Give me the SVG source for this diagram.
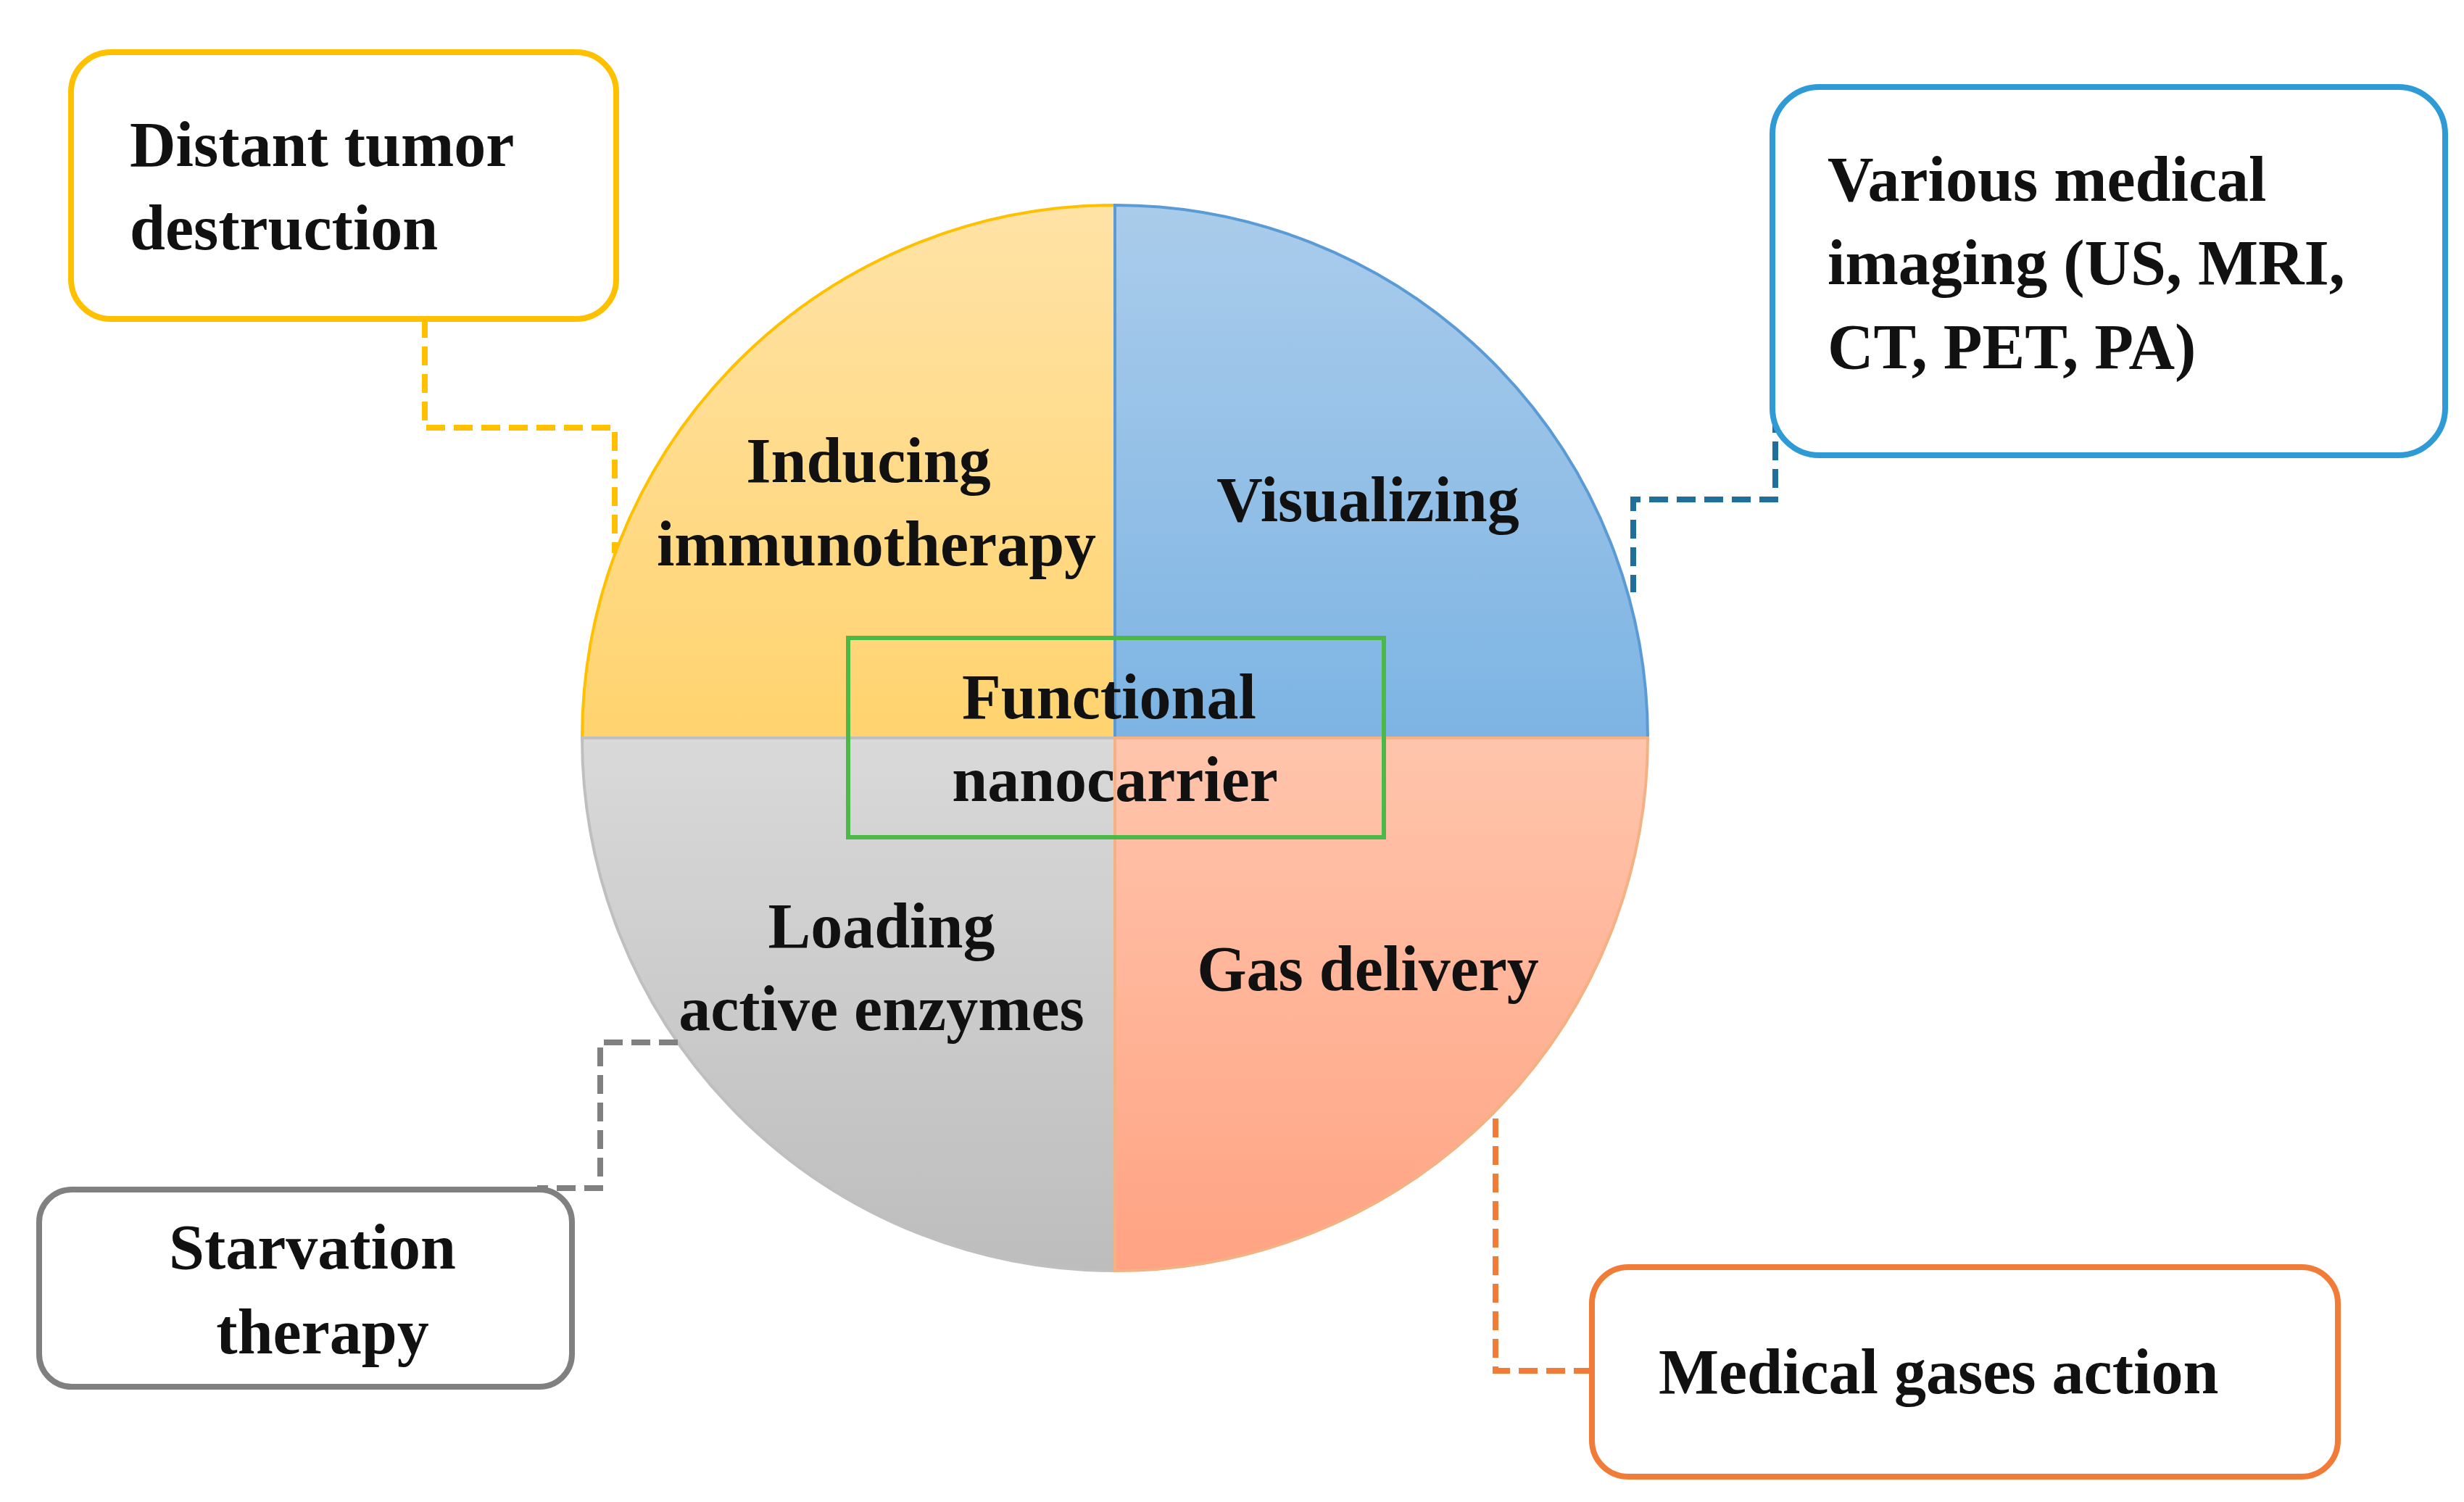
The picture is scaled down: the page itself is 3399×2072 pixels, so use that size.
<svg xmlns="http://www.w3.org/2000/svg" width="3399" height="2072" viewBox="0 0 3399 2072">
<style>
text{font-family:"Liberation Serif","Times New Roman",serif;font-weight:bold;font-size:88px;fill:#111}
.c{text-anchor:middle}
.box{fill:#fff;stroke-width:8}
.dash{fill:none;stroke-width:8;stroke-dasharray:26 12}
</style>
<defs>
<linearGradient id="gy" x1="0" y1="0" x2="0" y2="1"><stop offset="0" stop-color="#FFE3A6"/><stop offset="1" stop-color="#FFD36E"/></linearGradient>
<linearGradient id="gb" x1="0" y1="0" x2="0" y2="1"><stop offset="0" stop-color="#AACCEB"/><stop offset="1" stop-color="#7DB4E3"/></linearGradient>
<linearGradient id="gg" x1="0" y1="0" x2="0" y2="1"><stop offset="0" stop-color="#D9D9D9"/><stop offset="1" stop-color="#BDBDBD"/></linearGradient>
<linearGradient id="go" x1="0" y1="0" x2="0" y2="1"><stop offset="0" stop-color="#FFC5AC"/><stop offset="1" stop-color="#FFA383"/></linearGradient>
</defs>
<rect width="3399" height="2072" fill="#fff"/>
<g id="circle">
<path d="M1538 1018 L803 1018 A735 735 0 0 1 1538 283 Z" fill="url(#gy)" stroke="#FFC000" stroke-width="4"/>
<path d="M1538 1018 L1538 283 A735 735 0 0 1 2273 1018 Z" fill="url(#gb)" stroke="#5B9BD5" stroke-width="4"/>
<path d="M1538 1018 L803 1018 A735 735 0 0 0 1538 1753 Z" fill="url(#gg)" stroke="#BFBFBF" stroke-width="4"/>
<path d="M1538 1018 L1538 1753 A735 735 0 0 0 2273 1018 Z" fill="url(#go)" stroke="#F4B183" stroke-width="4"/>
<text class="c" x="1198" y="665">Inducing</text>
<text class="c" x="1209" y="780">immunotherapy</text>
<text class="c" x="1887" y="719">Visualizing</text>
<text class="c" x="1216" y="1307">Loading</text>
<text class="c" x="1216" y="1421">active enzymes</text>
<text class="c" x="1887" y="1366">Gas delivery</text>
</g>
<g id="center">
<rect x="1170" y="880" width="739" height="275" fill="none" stroke="#4CB847" stroke-width="6"/>
<text class="c" x="1530" y="991">Functional</text>
<text class="c" x="1538" y="1105">nanocarrier</text>
</g>
<g id="connectors">
<path class="dash" stroke="#FFC000" d="M586 440 V590 H848 V763"/>
<path class="dash" stroke="#1F6F9A" d="M2449 571 V689 H2253 V817"/>
<path class="dash" stroke="#808080" d="M935 1438 H828 V1639 H741"/>
<path class="dash" stroke="#F07C38" d="M2063 1543 V1891 H2196"/>
</g>
<g id="n1"><rect class="box" x="98" y="72" width="752" height="368" rx="55" stroke="#FFC000"/>
<text x="179" y="229">Distant tumor</text><text x="179" y="344">destruction</text></g>
<g id="n2"><rect class="box" x="2445" y="120" width="928" height="508" rx="65" stroke="#2E9AD6"/>
<text x="2521" y="277">Various medical</text><text x="2521" y="392">imaging (US, MRI,</text><text x="2521" y="508">CT, PET, PA)</text></g>
<g id="n3"><rect class="box" x="54" y="1641" width="735" height="272" rx="45" stroke="#808080"/>
<text class="c" x="431" y="1750">Starvation</text><text class="c" x="445" y="1867">therapy</text></g>
<g id="n4"><rect class="box" x="2196" y="1748" width="1029" height="289" rx="50" stroke="#F07C38"/>
<text x="2288" y="1922">Medical gases action</text></g>
</svg>
